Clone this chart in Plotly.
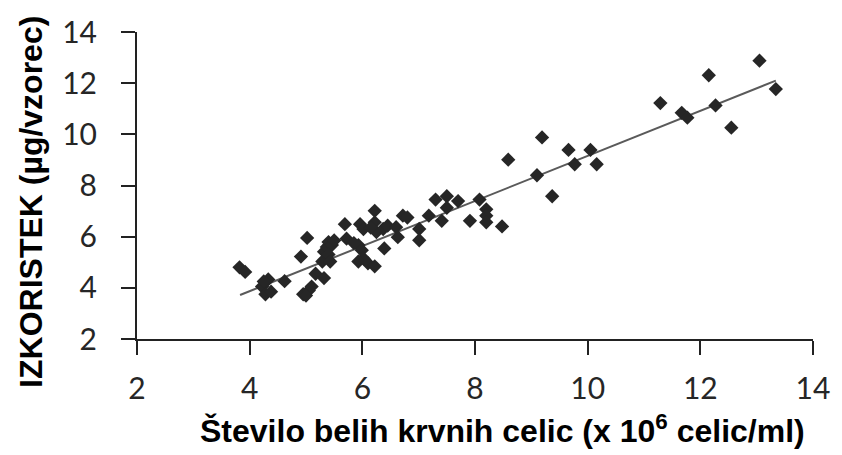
import plotly.graph_objects as go

# Scatter data: white blood cell count (x 10^6 cells/ml) vs DNA yield (µg/sample)
cells = [3.82, 3.92, 4.22, 4.28, 4.33, 4.38, 4.25, 4.62, 4.91, 5.02,
         4.95, 5.05, 5.10, 5.00, 5.17, 5.32, 5.29, 5.32, 5.37, 5.40,
         5.46, 5.40, 5.43, 5.50, 5.69, 5.72, 5.93, 5.96, 6.02, 5.99,
         6.02, 5.93, 6.10, 6.22, 6.22, 6.22, 6.25, 6.37, 6.45, 6.39,
         6.60, 6.63, 6.72, 6.80, 7.01, 7.01, 7.18, 7.30, 7.50, 7.70,
         7.50, 7.41, 7.91, 8.08, 8.20, 8.20, 8.20, 8.48, 8.59, 9.10,
         9.19, 9.37, 9.66, 9.77, 10.05, 10.16, 11.29, 11.67, 11.77, 12.15,
         12.27, 12.55, 13.05, 13.34, 6.15, 5.85]
yield_ug = [4.80, 4.62, 4.05, 3.75, 4.33, 3.85, 4.25, 4.26, 5.22, 5.95,
            3.75, 3.90, 4.05, 3.70, 4.55, 4.38, 5.03, 5.41, 5.60, 5.79,
            5.67, 5.30, 5.03, 5.85, 6.49, 5.92, 5.67, 6.49, 6.30, 5.47,
            5.15, 5.03, 4.96, 4.84, 7.01, 6.56, 6.18, 6.30, 6.43, 5.54,
            6.37, 5.98, 6.82, 6.75, 6.30, 5.86, 6.82, 7.45, 7.58, 7.39,
            7.13, 6.62, 6.62, 7.45, 7.07, 6.82, 6.56, 6.40, 9.01, 8.40,
            9.88, 7.58, 9.39, 8.83, 9.39, 8.83, 11.22, 10.84, 10.65, 12.31,
            11.13, 10.26, 12.88, 11.77, 6.35, 5.75]

# Regression line end points
fit_x = [3.83, 13.34]
fit_y = [3.72, 12.10]

tick_vals = [2, 4, 6, 8, 10, 12, 14]
tick_text = ["2", "4", "6", "8", "10", "12", "14"]

fig = go.Figure()
fig.add_trace(go.Scatter(x=fit_x, y=fit_y, mode="lines",
                         line=dict(color="#5a5a5a", width=2), hoverinfo="skip"))
fig.add_trace(go.Scatter(x=cells, y=yield_ug, mode="markers",
                         marker=dict(symbol="diamond", size=11, color="#262626",
                                     line=dict(width=0))))

axis_common = dict(
    showgrid=False, zeroline=False, showline=True, linecolor="#222222", linewidth=2,
    ticks="outside", ticklen=14, tickwidth=2, tickcolor="#222222",
    tickvals=tick_vals, ticktext=tick_text,
    tickfont=dict(family="Lato", size=30, color="#262626"),
)

fig.update_layout(
    width=842, height=455,
    margin=dict(l=137, r=19, t=26, b=116),
    paper_bgcolor="white", plot_bgcolor="white",
    showlegend=False,
    xaxis=dict(range=[2, 14], ticklabelstandoff=8, **axis_common),
    yaxis=dict(range=[2, 14], ticklabelstandoff=18, **axis_common),
    annotations=[
        dict(text="IZKORISTEK (µg/vzorec)", xref="paper", yref="paper",
             x=-0.158, y=(455 - 199 - 116) / (455 - 26 - 116), textangle=-90,
             showarrow=False, xanchor="center", yanchor="middle",
             font=dict(family="Liberation Sans", size=32, color="black", weight="bold")),
        dict(text="Število belih krvnih celic (x 10<sup>6</sup> celic/ml)",
             xref="paper", yref="paper",
             x=(508 - 137) / (823 - 137), y=-(431 - 339) / (455 - 26 - 116),
             showarrow=False, xanchor="center", yanchor="middle",
             font=dict(family="Liberation Sans", size=32, color="black", weight="bold")),
    ],
)

fig.write_html("out.html")
